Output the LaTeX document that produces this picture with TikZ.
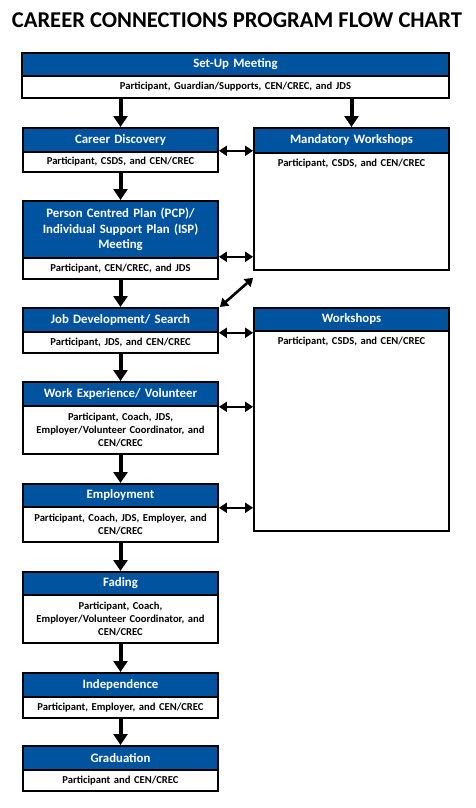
\documentclass[tikz,border=0pt]{standalone}
\usepackage{fontspec}
\setmainfont{Carlito}
\usetikzlibrary{arrows.meta,calc}
\definecolor{blueC}{RGB}{0,83,159}
\begin{document}
\begin{tikzpicture}[x=1pt,y=-1pt,
  hdr/.style={draw=black,line width=1.8pt,fill=blueC,text=white,anchor=north,
    font=\bfseries\fontsize{12.8}{15.8}\selectfont,minimum width=195pt,inner sep=0pt,
    align=center,text width=192pt},
  bdy/.style={draw=black,line width=1.8pt,fill=white,text=black,anchor=north,
    font=\bfseries\fontsize{10.6}{13.3}\selectfont,minimum width=195pt,inner sep=0pt,
    align=center,text width=192pt},
  dnarrow/.style={line width=4pt,-{Triangle[width=14pt,length=11pt]}},
  dblarrow/.style={line width=2.6pt,{Triangle[width=10pt,length=8pt]}-{Triangle[width=10pt,length=8pt]}}
]
\useasboundingbox (0,0) rectangle (476,808);
\node[font=\bfseries\fontsize{22.6}{26}\selectfont] (title) at (237,20) {CAREER CONNECTIONS PROGRAM FLOW CHART};

% Set-up
\node[hdr,minimum width=427pt,text width=420pt,minimum height=23pt] (suh) at (235.5,52) {Set-Up Meeting};
\node[bdy,minimum width=427pt,text width=420pt,minimum height=22pt] (sub) at (235.5,75) {Participant, Guardian/Supports, CEN/CREC, and JDS};

% Left column
\node[hdr,minimum height=24pt] (cdh) at (120.5,127) {Career Discovery};
\node[bdy,minimum height=20pt] (cdb) at (120.5,151) {Participant, CSDS, and CEN/CREC};

\node[hdr,minimum height=57pt] (pch) at (120.5,200) {Person Centred Plan (PCP)/\\Individual Support Plan (ISP)\\Meeting};
\node[bdy,minimum height=21pt] (pcb) at (120.5,257) {Participant, CEN/CREC, and JDS};

\node[hdr,minimum height=24pt] (jdh) at (120.5,307) {Job Development/ Search};
\node[bdy,minimum height=21pt] (jdb) at (120.5,331) {Participant, JDS, and CEN/CREC};

\node[hdr,minimum height=24pt] (weh) at (120.5,381) {Work Experience/ Volunteer};
\node[bdy,minimum height=48pt] (web) at (120.5,405) {Participant, Coach, JDS,\\Employer/Volunteer Coordinator, and\\CEN/CREC};

\node[hdr,minimum height=23pt] (emh) at (120.5,483) {Employment};
\node[bdy,minimum height=35pt] (emb) at (120.5,506) {Participant, Coach, JDS, Employer, and\\CEN/CREC};

\node[hdr,minimum height=23pt] (fah) at (120.5,571) {Fading};
\node[bdy,minimum height=48pt] (fab) at (120.5,594) {Participant, Coach,\\Employer/Volunteer Coordinator, and\\CEN/CREC};

\node[hdr,minimum height=24pt] (inh) at (120.5,672) {Independence};
\node[bdy,minimum height=21pt] (inb) at (120.5,696) {Participant, Employer, and CEN/CREC};

\node[hdr,minimum height=24pt] (grh) at (120.5,745) {Graduation};
\node[bdy,minimum height=21pt] (grb) at (120.5,769) {Participant and CEN/CREC};

% Right column
\node[hdr,minimum height=25pt] (mwh) at (351.5,127) {Mandatory Workshops};
\node[bdy,minimum height=117pt] (mwb) at (351.5,152) {\parbox[c][113pt][t]{192pt}{\centering\vspace{4.5pt}Participant, CSDS, and CEN/CREC}};

\node[hdr,minimum height=23pt] (wsh) at (351.5,307) {Workshops};
\node[bdy,minimum height=200pt] (wsb) at (351.5,330) {\parbox[c][196pt][t]{192pt}{\centering\vspace{4.5pt}Participant, CSDS, and CEN/CREC}};

% Down arrows
\draw[dnarrow] (sub.south -| cdh.north) -- (cdh.north);
\draw[dnarrow] (sub.south -| mwh.north) -- (mwh.north);
\draw[dnarrow] (cdb.south) -- (pch.north);
\draw[dnarrow] (pcb.south) -- (jdh.north);
\draw[dnarrow] (jdb.south) -- (weh.north);
\draw[dnarrow] (web.south) -- (emh.north);
\draw[dnarrow] (emb.south) -- (fah.north);
\draw[dnarrow] (fab.south) -- (inh.north);
\draw[dnarrow] (inb.south) -- (grh.north);

% Double arrows
\draw[dblarrow] ($(cdh.south east)+(0,-2)$) -- ($(cdh.south east -| mwb.west)+(0,-2)$);
\draw[dblarrow] ($(pch.south east)+(0,-2)$) -- ($(pch.south east -| mwb.west)+(0,-2)$);
\draw[dblarrow] (jdh.south east) -- (jdh.south east -| wsb.west);
\draw[dblarrow] (weh.south east) -- (weh.south east -| wsb.west);
\draw[dblarrow] (emh.south east) -- (emh.south east -| wsb.west);
\coordinate (diagend) at ($(mwb.south west)+(0,7)$);
\draw[dblarrow] ($(jdh.north east)+(1,0)$) -- (diagend);
\end{tikzpicture}
\end{document}
